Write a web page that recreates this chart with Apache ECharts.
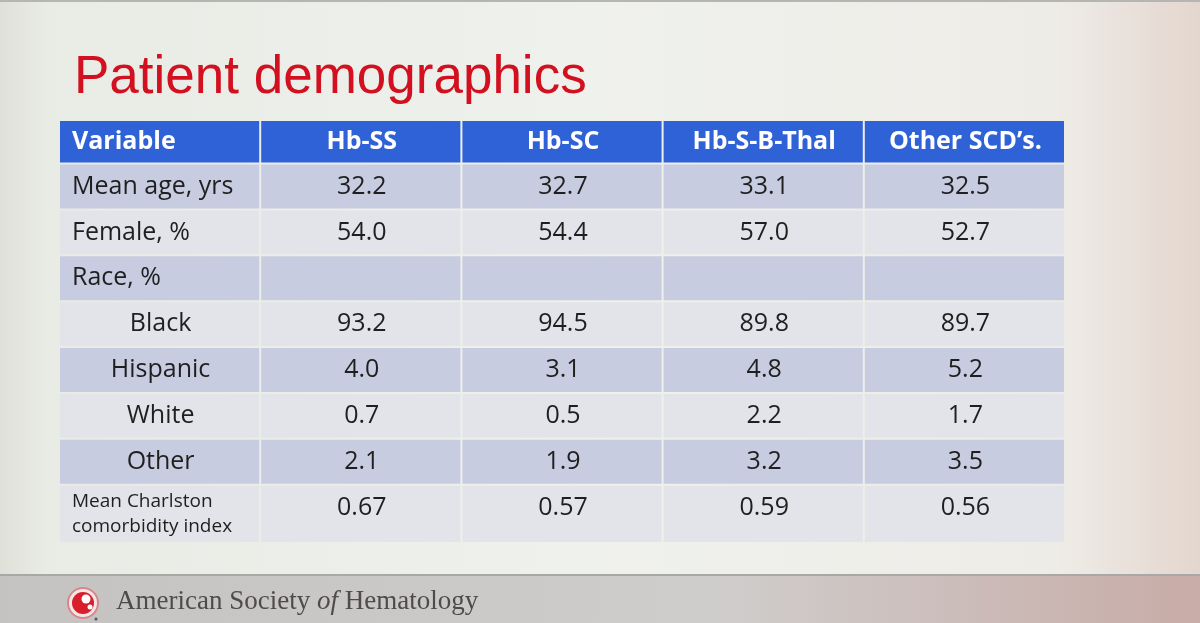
<!DOCTYPE html>
<html>
<head>
<meta charset="utf-8">
<title>Patient demographics</title>
<script src="https://cdn.jsdelivr.net/npm/echarts@6.0.0/dist/echarts.min.js"></script>
<style>
  html, body { margin: 0; padding: 0; background: #eceeea; }
  #chart { width: 1200px; height: 623px; }
</style>
</head>
<body>
<div id="chart"></div>
<script>
// table content
var columns = ['Variable', 'Hb-SS', 'Hb-SC', 'Hb-S-B-Thal', 'Other SCD\u2019s.'];
var variables = ['Mean age, yrs', 'Female, %', 'Race, %', 'Black', 'Hispanic', 'White', 'Other', 'Mean Charlston\ncomorbidity index'];
var hbSS     = [32.2, 54.0, null, 93.2, 4.0, 0.7, 2.1, 0.67];
var hbSC     = [32.7, 54.4, null, 94.5, 3.1, 0.5, 1.9, 0.57];
var hbSBThal = [33.1, 57.0, null, 89.8, 4.8, 2.2, 3.2, 0.59];
var otherSCD = [32.5, 52.7, null, 89.7, 5.2, 1.7, 3.5, 0.56];
var decimals = [1, 1, 1, 1, 1, 1, 1, 2];

var valueCols = [hbSS, hbSC, hbSBThal, otherSCD];

// layout: relative row heights (header, 7 normal rows, taller last row)
var rowWeights = [0.95, 1, 1, 1, 1, 1, 1, 1, 1.27];

var FONT = '"Open Sans", "Noto Sans", sans-serif';

// build cells: [col, rowStart, rowEnd, row]
var cells = [];
var edge = 0;
for (var r = 0; r < rowWeights.length; r++) {
  for (var c = 0; c < columns.length; c++) {
    cells.push([c, edge, edge + rowWeights[r], r]);
  }
  edge += rowWeights[r];
}
var yMax = edge;

function cellText(col, row) {
  if (row === 0) return columns[col];
  if (col === 0) return variables[row - 1];
  var v = valueCols[col - 1][row - 1];
  if (v === null || v === undefined) return '';
  return v.toFixed(decimals[row - 1]);
}

var myChart = echarts.init(document.getElementById('chart'));

var option = {
  animation: false,
  backgroundColor: {
    type: 'linear', x: 0, y: 0, x2: 1, y2: 0,
    colorStops: [
      { offset: 0, color: '#dfe1d9' },
      { offset: 0.04, color: '#e9ebe5' },
      { offset: 0.5, color: '#eff1ed' },
      { offset: 0.88, color: '#eeece7' },
      { offset: 1, color: '#e4d6ce' }
    ]
  },
  title: {
    text: 'Patient demographics',
    left: 69,
    top: 47,
    textStyle: {
      color: '#d2101f',
      fontFamily: '"Liberation Sans", Arial, sans-serif',
      fontWeight: 'normal',
      fontSize: 53
    }
  },
  grid: { left: 59, right: 135, top: 120, bottom: 80 },
  xAxis: {
    type: 'category',
    data: columns,
    show: false
  },
  yAxis: {
    type: 'value',
    min: 0,
    max: yMax,
    inverse: true,
    show: false
  },
  graphic: [
    // footer band
    { type: 'rect', shape: { x: 0, y: 576, width: 1200, height: 47 },
      style: { fill: { type: 'linear', x: 0, y: 0, x2: 1, y2: 0,
        colorStops: [{ offset: 0, color: '#c4c3c1' }, { offset: 0.6, color: '#cfcdcc' }, { offset: 1, color: '#c8aca7' }] } } },
    { type: 'rect', shape: { x: 0, y: 574, width: 1200, height: 2 }, style: { fill: '#a8a8a6' } },
    { type: 'rect', shape: { x: 0, y: 0, width: 1200, height: 2 }, style: { fill: '#b5b5b2' } },
    // logo
    { type: 'circle', shape: { cx: 83, cy: 603, r: 15 }, style: { fill: '#f3e6e6', stroke: '#d9868a', lineWidth: 2 } },
    { type: 'circle', shape: { cx: 83, cy: 603, r: 11 }, style: { fill: '#d81f2b' } },
    { type: 'circle', shape: { cx: 86, cy: 599, r: 4.5 }, style: { fill: '#ffffff' } },
    { type: 'circle', shape: { cx: 90, cy: 607, r: 2.5 }, style: { fill: '#ffffff' } },
    { type: 'circle', shape: { cx: 96, cy: 619, r: 1.5 }, style: { fill: '#555' } },
    {
      type: 'text', left: 116, top: 588,
      style: {
        text: '{a|American Society }{i|of}{a| Hematology}',
        rich: {
          a: { fontFamily: '"Liberation Serif", "DejaVu Serif", serif', fontSize: 27, fill: '#4f4b4b', color: '#4f4b4b' },
          i: { fontFamily: '"Liberation Serif", "DejaVu Serif", serif', fontSize: 27, fontStyle: 'italic', fill: '#4f4b4b', color: '#4f4b4b' }
        }
      }
    }
  ],
  series: [{
    type: 'custom',
    clip: false,
    data: cells,
    encode: { x: 0, y: [1, 2] },
    renderItem: function (params, api) {
      var col = api.value(0);
      var y0 = api.value(1);
      var y1 = api.value(2);
      var row = api.value(3);
      var p0 = api.coord([col, y0]);
      var p1 = api.coord([col, y1]);
      var w = api.size([1, 0])[0];
      var left = p0[0] - w / 2 + 1;
      var top = p0[1] + 1;
      var h = p1[1] - p0[1] - 2;

      var fill;
      if (row === 0) fill = '#2f62d6';
      else if (row % 2 === 1) fill = '#c7cce0';
      else fill = '#e2e4e9';

      var txt = cellText(col, row);
      var tx, align = 'center';
      var ty = top + h / 2;
      var size = 25, weight = 'normal', color = '#1f1f1f', lh = 30;
      if (row === 0) {
        size = 25; weight = 'bold'; color = '#ffffff';
      }
      if (col === 0 && (row <= 3 || row === 8)) {
        align = 'left';
        tx = left + 12;
      } else {
        tx = left + w / 2;
      }
      if (row === 8) {
        if (col === 0) {
          size = 19; lh = 25;
        } else {
          ty = top + 22;
        }
      }

      return {
        type: 'group',
        children: [{
          type: 'rect',
          shape: { x: left, y: top, width: w - 2, height: h },
          style: { fill: fill }
        }, {
          type: 'text',
          style: {
            text: txt,
            x: tx,
            y: ty,
            align: align,
            textAlign: align,
            verticalAlign: 'middle',
            textVerticalAlign: 'middle',
            fill: color,
            fontSize: size,
            fontWeight: weight,
            fontFamily: FONT,
            lineHeight: lh
          }
        }]
      };
    }
  }]
};

myChart.setOption(option);
</script>
</body>
</html>
